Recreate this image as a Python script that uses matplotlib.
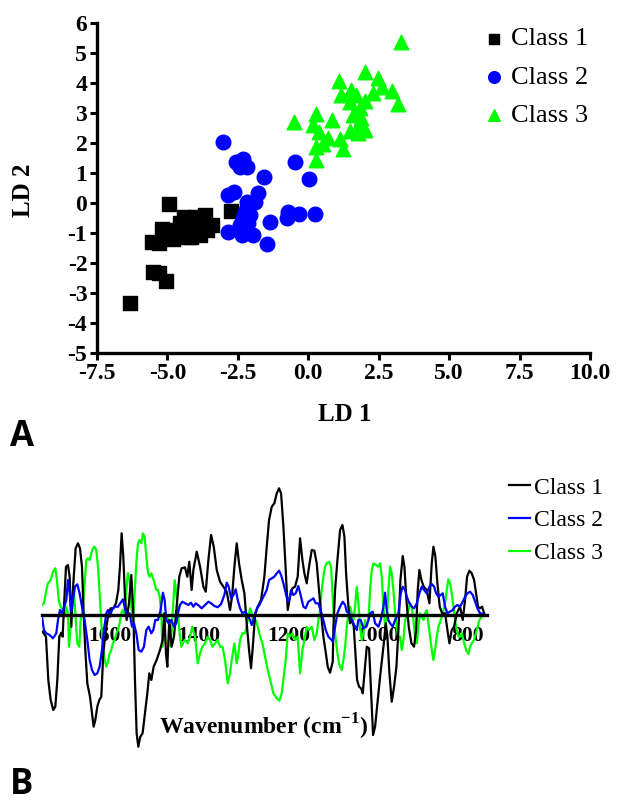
import matplotlib
matplotlib.use("Agg")
import matplotlib.pyplot as plt

plt.rcParams['axes.unicode_minus'] = False
plt.rcParams['mathtext.fontset'] = 'custom'
plt.rcParams['mathtext.rm'] = 'Liberation Serif'
plt.rcParams['mathtext.bf'] = 'Liberation Serif:bold'

# ---------------- Panel A data (LD scores) ----------------
class1_ld1 = [-4.95, -6.33, -5.50, -5.29, -5.05, -5.56, -5.29, -5.21, -4.79, -4.91, -4.41, -4.03,
              -3.67, -3.43, -4.26, -3.85, -4.03, -4.44, -2.76, -4.56, -4.20, -3.61, -4.67, -4.15]
class1_ld2 = [-0.04, -3.32, -2.29, -2.34, -2.59, -1.31, -1.32, -0.88, -1.21, -0.90, -0.46, -0.46,
              -0.40, -0.73, -1.12, -1.07, -0.79, -0.84, -0.26, -0.67, -0.62, -0.90, -1.01, -1.12]

class2_ld1 = [-3.02, -2.55, -2.31, -2.43, -2.16, -1.58, -0.48, 0.02, -2.84, -2.63, -1.80, -2.16,
              -1.90, -2.25, -2.07, -2.84, -2.37, -1.96, -1.48, -1.37, -0.72, -0.77, -0.34, 0.23,
              -2.43, -2.13, -2.19, -2.31]
class2_ld2 = [2.04, 1.36, 1.47, 1.21, 1.19, 0.88, 1.38, 0.79, 0.27, 0.38, 0.32, 0.04,
              0.02, -0.29, -0.40, -0.96, -1.07, -1.07, -1.38, -0.64, -0.29, -0.51, -0.38, -0.38,
              -0.73, -0.68, -0.12, -0.51]

class3_ld1 = [3.30, 2.00, 1.09, 2.47, 2.63, 2.98, 3.18, 2.30, 1.53, 1.17, 1.47, 2.00, 1.83, 1.59,
              1.85, 2.00, 1.77, 1.47, 0.85, 0.27, -0.51, 0.15, 0.38, 0.70, 1.12, 0.53, 0.29, 1.23,
              0.27, 1.71, 1.88]
class3_ld2 = [5.36, 4.36, 4.08, 4.16, 3.88, 3.73, 3.29, 3.68, 3.77, 3.60, 3.38, 3.40, 3.16, 2.93,
              2.71, 2.43, 2.32, 2.40, 2.77, 2.96, 2.69, 2.60, 2.38, 2.16, 2.12, 1.96, 1.88, 1.80,
              1.43, 3.60, 2.82]

classes = ["Class 1", "Class 2", "Class 3"]
x_ticks_a = [-7.5, -5.0, -2.5, 0.0, 2.5, 5.0, 7.5, 10.0]
y_ticks_a = [-5, -4, -3, -2, -1, 0, 1, 2, 3, 4, 5, 6]

# ---------------- Panel B data (LD1 loadings, arbitrary units) ----------------
wn1 = [1750.5, 1743.1, 1737.9, 1732.6, 1726.7, 1722.2, 1717.7, 1713.3, 1708.8, 1705.8, 1702.8, 1698.3,
       1693.9, 1690.1, 1686.4, 1681.9, 1676.7, 1671.5, 1667.0, 1662.5, 1658.8, 1655.1, 1650.6, 1644.6,
       1640.1, 1636.4, 1632.7, 1628.2, 1623.7, 1619.3, 1614.8, 1609.6, 1604.3, 1598.4, 1592.4, 1586.4,
       1581.2, 1577.5, 1573.8, 1570.0, 1566.3, 1562.6, 1557.3, 1552.1, 1547.6, 1543.9, 1540.2, 1536.4,
       1532.0, 1526.8, 1521.5, 1516.3, 1511.8, 1507.3, 1502.1, 1495.4, 1487.9, 1482.0, 1478.2, 1474.5,
       1471.5, 1467.1, 1461.8, 1456.6, 1450.6, 1444.7, 1439.5, 1432.0, 1426.8, 1422.3, 1417.1, 1413.2,
       1405.7, 1398.2, 1390.8, 1385.5, 1379.6, 1373.6, 1367.6, 1360.9, 1353.5, 1346.0, 1338.6, 1331.1,
       1326.6, 1321.4, 1316.2, 1311.0, 1305.0, 1299.0, 1293.8, 1288.6, 1284.1, 1279.6, 1275.1, 1269.2,
       1261.7, 1254.3, 1249.0, 1243.8, 1237.8, 1231.9, 1226.6, 1221.4, 1216.9, 1211.7, 1207.3, 1202.0,
       1196.8, 1191.6, 1185.6, 1179.7, 1174.4, 1169.2, 1164.7, 1159.5, 1154.3, 1148.3, 1142.4, 1137.1,
       1132.7, 1127.4, 1122.2, 1117.7, 1112.5, 1107.3, 1101.3, 1099.7, 1096.0, 1090.8, 1084.8, 1079.6,
       1075.1, 1071.4, 1066.2, 1062.4, 1058.0, 1054.2, 1050.5, 1046.8, 1042.3, 1037.8, 1034.1, 1029.6,
       1025.1, 1019.9, 1015.4, 1011.0, 1006.5, 1002.0, 995.3, 987.8, 982.6, 978.9, 974.4, 969.2,
       964.0, 958.7, 954.3, 949.8, 944.6, 940.8, 936.4, 931.2, 925.2, 919.2, 914.7, 911.0,
       907.3, 902.8, 897.6, 890.9, 884.9, 879.7, 875.9, 871.5, 867.0, 861.8, 856.5, 849.8,
       844.6, 840.1, 834.9, 829.7, 823.7, 816.3, 810.3, 805.1, 800.6, 795.4, 790.2, 784.9,
       780.4, 776.0, 771.5, 767.0, 762.5]
load1 = [-1.67, -2.17, -6.5, -8.5, -9.5, -9.17, -6.5, -2.17, -1.77, -2.17, 0.83, 4.83,
         5.0, 3.83, -1.17, 3.17, 6.67, 7.17, 6.67, 4.83, 0.17, -3.5, -6.83, -8.17,
         -9.83, -11.17, -10.5, -9.17, -8.5, -8.17, -3.83, -1.67, -0.17, 0.67, 0.67, 1.17,
         2.5, 4.83, 8.17, 5.83, 1.83, -0.5, 1.17, 4.0, 0.17, -6.5, -11.83, -13.17,
         -12.17, -11.83, -9.83, -7.83, -5.83, -6.5, -5.17, -4.5, -3.5, -2.5, 0.17, -3.83,
         -5.17, -0.5, -3.17, -2.17, 0.83, 3.83, 4.67, 4.77, 3.83, 5.33, 2.5, 4.5,
         6.33, 4.83, 2.83, 2.33, 5.5, 8.0, 6.83, 4.5, 3.33, 2.83, 2.33, 0.5,
         1.83, 4.83, 7.17, 5.17, 3.5, 2.17, -0.83, -3.5, -5.33, -2.83, 0.0, 0.83,
         1.5, 3.83, 6.83, 9.5, 10.83, 11.17, 12.17, 12.67, 12.17, 8.83, 5.17, 0.5,
         1.83, 2.67, 2.83, 3.83, 7.67, 5.5, 4.17, 3.17, 4.83, 6.5, 6.43, 5.17,
         2.83, 0.17, -2.17, -3.5, -5.17, -5.77, -4.67, -1.17, 2.5, 5.5, 8.5, 9.0,
         7.83, 4.17, 0.83, -0.83, -0.5, -1.17, -3.83, -6.5, -7.17, -7.33, -7.83, -5.5,
         -3.17, -3.33, -7.83, -12.0, -11.17, -9.17, -6.17, -3.17, -0.83, -2.17, -5.83, -8.67,
         -7.17, -5.17, -1.5, 3.5, 5.9, 4.83, 1.5, -1.17, -2.83, -3.17, -1.5, 2.5,
         4.5, 3.5, 2.83, 2.5, 1.17, 5.17, 6.83, 5.83, 3.17, 0.83, 0.17, 0.17,
         -1.5, -2.83, -1.5, -1.17, 0.17, 0.83, -0.5, 1.5, 3.83, 4.43, 4.17, 3.5,
         2.17, 0.83, 0.67, 0.83, 0.17]

wn2 = [1752.0, 1747.6, 1742.4, 1734.9, 1727.4, 1720.0, 1716.2, 1711.8, 1707.3, 1702.1, 1697.6, 1693.9,
       1690.1, 1686.4, 1682.7, 1678.2, 1673.0, 1667.8, 1662.5, 1656.6, 1650.6, 1645.4, 1640.1, 1634.2,
       1628.2, 1623.0, 1617.8, 1613.3, 1608.1, 1604.3, 1599.9, 1595.4, 1589.4, 1582.0, 1576.0, 1570.8,
       1565.5, 1561.1, 1555.8, 1550.6, 1546.2, 1540.9, 1535.7, 1529.7, 1523.8, 1518.5, 1513.3, 1507.4,
       1502.9, 1498.4, 1492.4, 1486.5, 1481.3, 1477.5, 1473.8, 1468.6, 1462.6, 1456.6, 1451.4, 1447.7,
       1443.2, 1438.0, 1431.3, 1424.3, 1418.4, 1413.2, 1407.9, 1402.0, 1394.5, 1387.0, 1379.6, 1373.6,
       1366.2, 1358.7, 1351.2, 1343.8, 1338.6, 1334.1, 1328.9, 1323.6, 1318.4, 1313.9, 1308.7, 1303.5,
       1297.5, 1291.6, 1286.3, 1282.6, 1278.9, 1275.1, 1270.7, 1265.4, 1260.2, 1254.3, 1249.0, 1243.8,
       1237.8, 1231.9, 1226.6, 1221.4, 1216.9, 1211.7, 1206.5, 1202.0, 1198.3, 1194.6, 1189.4, 1184.1,
       1178.2, 1172.2, 1167.0, 1161.8, 1155.8, 1149.8, 1144.6, 1139.4, 1133.4, 1127.4, 1122.2, 1117.0,
       1111.0, 1103.6, 1101.2, 1096.0, 1090.8, 1084.8, 1078.9, 1073.6, 1069.9, 1063.9, 1058.7, 1051.2,
       1047.5, 1043.8, 1038.6, 1032.6, 1026.6, 1021.4, 1017.7, 1011.7, 1006.5, 999.0, 993.8, 987.8,
       984.1, 980.4, 976.7, 972.9, 967.0, 961.7, 954.3, 949.0, 944.6, 939.3, 935.6, 929.7,
       924.4, 919.2, 913.2, 907.3, 902.1, 896.8, 890.9, 884.9, 879.7, 874.4, 869.9, 864.7,
       859.5, 855.1, 849.8, 844.6, 838.6, 832.7, 827.5, 822.2, 816.3, 810.3, 805.1, 799.8,
       793.9, 787.9, 782.7, 777.5, 771.5, 765.5, 760.3]
load2 = [-0.17, -1.5, -1.83, -2.0, -2.33, -1.83, -0.5, 0.5, 0.17, 0.83, 1.5, 3.5,
         2.17, 0.33, 1.5, 2.83, 3.07, 2.17, 0.83, -0.5, -2.5, -4.5, -5.5, -6.0,
         -5.83, -5.17, -3.5, -1.5, 0.17, 0.5, -0.17, 0.5, 0.83, 0.83, 1.23, 1.57,
         0.5, -0.17, 0.17, -1.17, -0.83, -1.83, -3.5, -3.67, -3.17, -1.5, -1.17, -1.83,
         -1.5, -0.5, -0.5, 0.5, 2.23, 1.5, -0.5, -0.83, -0.5, -1.17, -0.83, 0.17,
         1.0, 1.33, 1.17, 1.0, 1.23, 0.83, 1.17, 0.97, 0.67, 1.0, 1.33, 1.17,
         0.9, 0.77, 1.1, 2.0, 3.23, 2.83, 1.67, 2.0, 2.57, 1.5, 0.67, 0.17,
         0.33, 0.0, -0.5, -1.0, -0.5, 0.17, 0.67, 1.0, 1.5, 2.0, 2.5, 3.5,
         3.67, 3.83, 4.17, 4.43, 4.0, 3.17, 2.17, 1.33, 1.57, 2.5, 2.0, 2.17,
         2.9, 1.83, 0.83, 0.67, 1.33, 1.5, 1.67, 1.17, 1.17, 0.33, -0.5, -1.5,
         -2.17, -2.5, -2.67, -1.17, 0.17, 0.83, 1.33, 1.0, 0.33, 0.17, -0.5, -1.17,
         -1.5, -0.5, -0.5, -1.33, -1.17, -0.5, 0.17, 0.33, -0.83, -1.17, -0.5, 0.83,
         2.23, 0.5, -0.5, -0.83, -1.17, -0.5, 0.17, 2.17, 2.83, 2.5, 1.83, 1.17,
         0.83, 0.67, 1.17, 2.17, 2.83, 2.5, 2.17, 2.83, 3.1, 2.83, 2.17, 1.83,
         2.0, 2.17, 0.83, 0.17, 0.33, 0.5, 0.83, 1.0, 0.83, 1.33, 1.83, 2.17,
         2.33, 2.0, 1.33, 0.67, 0.17, 0.1, 0.0]

wn3 = [1752.0, 1747.6, 1742.4, 1738.6, 1732.7, 1727.4, 1722.2, 1718.5, 1714.7, 1710.3, 1705.0, 1701.3,
       1697.6, 1693.9, 1691.6, 1687.9, 1684.9, 1681.2, 1677.4, 1673.0, 1668.5, 1665.5, 1660.3, 1656.6,
       1652.8, 1649.1, 1645.4, 1641.6, 1637.9, 1634.2, 1630.5, 1626.7, 1623.0, 1619.3, 1615.5, 1611.8,
       1608.1, 1604.3, 1600.6, 1596.9, 1593.2, 1589.4, 1585.7, 1582.0, 1578.2, 1574.5, 1570.8, 1567.0,
       1563.3, 1559.6, 1555.8, 1552.1, 1548.4, 1544.7, 1540.9, 1537.2, 1533.5, 1529.7, 1526.0, 1522.3,
       1518.5, 1514.8, 1511.1, 1507.4, 1503.6, 1499.9, 1496.2, 1492.4, 1488.7, 1485.0, 1482.7, 1479.0,
       1476.0, 1471.6, 1468.6, 1464.1, 1460.4, 1455.1, 1451.4, 1447.7, 1443.9, 1440.2, 1432.8, 1425.8,
       1420.6, 1415.4, 1409.4, 1403.5, 1398.2, 1393.0, 1387.0, 1381.1, 1375.8, 1370.6, 1364.7, 1358.7,
       1353.5, 1348.2, 1342.3, 1336.3, 1331.1, 1327.4, 1321.4, 1316.2, 1312.4, 1308.7, 1303.5, 1297.5,
       1291.6, 1286.3, 1282.6, 1278.9, 1273.6, 1269.2, 1263.9, 1258.7, 1252.8, 1246.8, 1239.3, 1234.1,
       1226.6, 1220.7, 1215.5, 1211.0, 1206.5, 1202.0, 1196.8, 1191.6, 1185.6, 1179.7, 1174.4, 1169.2,
       1164.7, 1159.5, 1154.3, 1148.3, 1142.4, 1137.1, 1133.4, 1129.7, 1125.9, 1122.2, 1118.5, 1114.7,
       1109.5, 1105.1, 1103.5, 1099.7, 1096.0, 1090.8, 1086.3, 1081.1, 1077.4, 1073.6, 1069.9, 1066.2,
       1062.4, 1058.7, 1055.0, 1051.2, 1047.5, 1043.8, 1040.1, 1036.3, 1032.6, 1028.9, 1025.1, 1021.4,
       1017.7, 1013.9, 1010.2, 1004.3, 999.0, 995.3, 991.6, 987.8, 984.1, 980.4, 976.7, 972.9,
       969.2, 965.5, 961.7, 958.0, 954.3, 950.5, 946.8, 943.1, 939.3, 935.6, 931.9, 928.2,
       924.4, 920.7, 917.0, 913.2, 909.5, 905.8, 902.1, 898.3, 894.6, 890.9, 887.1, 883.4,
       879.7, 875.9, 872.2, 868.5, 864.7, 859.5, 855.1, 849.8, 846.1, 842.4, 838.6, 834.9,
       831.2, 827.5, 823.7, 820.0, 816.3, 812.5, 808.8, 802.8, 797.6, 793.9, 790.2, 784.9,
       778.9, 773.0, 767.8, 762.5]
load3 = [1.0, 1.17, 2.5, 3.17, 3.5, 4.33, 4.67, 3.5, 1.5, 0.83, 0.5, -0.17,
         0.83, 0.17, -3.17, -1.17, 1.83, 2.83, 0.17, -2.83, -3.17, -0.5, 0.83, 3.17,
         5.5, 5.67, 5.5, 6.17, 6.67, 6.83, 6.5, 4.83, 2.17, -0.83, -3.17, -4.5,
         -5.17, -4.67, -3.83, -3.5, -2.83, -2.5, -1.83, -1.5, -0.83, 0.17, 0.5, 0.17,
         2.5, 4.17, 3.5, 0.83, -0.5, 2.17, 5.17, 7.17, 7.5, 7.17, 8.17, 7.83,
         5.83, 4.17, 3.83, 4.17, 3.67, 3.17, 2.5, 2.5, 1.83, 0.17, -3.17, -2.5,
         -0.5, -0.17, -0.5, -3.17, -0.5, 3.5, 2.17, 0.17, -1.83, -3.17, -2.5, -2.83,
         -2.17, -1.17, -2.17, -4.83, -3.83, -3.17, -2.83, -2.17, -2.5, -3.17, -2.83, -2.5,
         -3.17, -3.17, -4.5, -6.83, -5.83, -4.5, -2.83, -4.83, -3.83, -2.5, -1.83, -1.83,
         -0.5, 0.67, 0.17, -0.83, -0.5, -1.17, -2.17, -2.83, -4.17, -5.5, -6.83, -7.83,
         -8.33, -8.57, -7.83, -6.17, -4.5, -1.83, -2.17, -1.83, -2.5, -2.17, -5.83, -3.5,
         -2.5, -1.17, -1.5, -1.17, -2.5, -1.83, -0.5, 0.5, 2.5, 3.83, 4.83, 5.17,
         5.33, 4.83, 3.5, 0.5, -1.83, -3.83, -5.0, -5.5, -4.5, -3.17, -1.17, 0.17,
         0.83, 0.17, -0.5, 0.83, 2.83, 1.17, -1.17, -2.5, -1.83, -0.5, -1.17, -0.5,
         2.5, 4.5, 5.17, 5.0, 4.83, 5.17, 3.83, 0.83, -1.17, -0.5, 2.5, 4.83,
         4.17, 2.5, 0.17, -1.17, -2.5, -2.17, -3.5, -2.5, -0.5, -0.17, 0.5, 1.17,
         0.83, -0.5, -2.17, -2.83, -1.17, 0.17, -0.17, -0.5, 0.17, 0.5, -0.83, -2.17,
         -3.5, -4.5, -3.5, -2.17, -1.17, -0.5, 0.17, 1.17, 2.5, 3.57, 3.17, 2.17,
         0.83, -0.5, -1.5, -2.17, -2.17, -1.83, -2.5, -3.5, -3.9, -3.17, -2.83, -2.5,
         -1.5, -0.5, -0.17, 0.0]

x_ticks_b = [1600, 1400, 1200, 1000, 800]

# ---------------- Figure ----------------
fig = plt.figure(figsize=(6.18, 8.05), dpi=100)
serif = 'Liberation Serif'

# Panel A
axA = fig.add_axes([97/618, 1-353/805, 493/618, 330/805])
axA.scatter(class1_ld1, class1_ld2, marker='s', s=95, color='#000000', label=classes[0], zorder=3)
axA.scatter(class2_ld1, class2_ld2, marker='o', s=110, color='#0000FF', label=classes[1], zorder=3)
axA.scatter(class3_ld1, class3_ld2, marker='^', s=110, color='#00FF00', label=classes[2], zorder=3)
axA.set_xlim(-7.5, 10.0)
axA.set_ylim(-5, 6)
axA.set_xticks(x_ticks_a)
axA.set_xticklabels([f"{v:.1f}" for v in x_ticks_a])
axA.set_yticks(y_ticks_a)
axA.set_yticklabels([str(v) for v in y_ticks_a])
for side in ['top', 'right']:
    axA.spines[side].set_visible(False)
for side in ['left', 'bottom']:
    axA.spines[side].set_linewidth(2.4)
axA.tick_params(axis='both', direction='out', length=5, width=2.2, pad=2)
for lab in axA.get_xticklabels() + axA.get_yticklabels():
    lab.set_fontfamily(serif)
    lab.set_fontweight('bold')
    lab.set_fontsize(17)
axA.set_xlabel('LD 1', fontfamily=serif, fontweight='bold', fontsize=18)
axA.set_ylabel('LD 2', fontfamily=serif, fontweight='bold', fontsize=18)
axA.xaxis.set_label_coords(0.503, -0.15)
axA.yaxis.set_label_coords(-0.125, 0.494)
legA = axA.legend(loc='upper left', bbox_to_anchor=(485/618, 1-27/805),
                  bbox_transform=fig.transFigure, frameon=False,
                  prop={'family': serif, 'size': 19}, handlelength=0.7,
                  handletextpad=0.3, labelspacing=0.56, borderpad=0, borderaxespad=0,
                  markerscale=0.8)

# Panel B
axB = fig.add_axes([42/618, 1-760/805, 445/618, 290/805])
axB.plot(wn1, load1, color='#000000', lw=1.6, label=classes[0], zorder=3)
axB.plot(wn2, load2, color='#0000FF', lw=1.6, label=classes[1], zorder=3)
axB.plot(wn3, load3, color='#00FF00', lw=1.6, label=classes[2], zorder=2)
axB.set_xlim(1752, 756)
axB.set_ylim(-14.5, 14.5)
for side in ['top', 'right', 'left']:
    axB.spines[side].set_visible(False)
axB.spines['bottom'].set_position(('data', 0))
axB.spines['bottom'].set_linewidth(2.4)
axB.spines['bottom'].set_zorder(4)
axB.set_yticks([])
axB.set_xticks(x_ticks_b)
axB.set_xticklabels([str(v) for v in x_ticks_b])
axB.tick_params(axis='x', length=0, pad=8)
for lab in axB.get_xticklabels():
    lab.set_fontfamily(serif)
    lab.set_fontweight('bold')
    lab.set_fontsize(15.5)
fig.text(264/618, 1-727/805, 'Wavenumber (cm$^{\\mathbf{-1}}$)', ha='center', va='center',
         fontfamily=serif, fontweight='bold', fontsize=17)
legB = axB.legend(loc='upper left', bbox_to_anchor=(509/618, 1-477/805),
                  bbox_transform=fig.transFigure, frameon=False,
                  prop={'family': serif, 'size': 17}, handlelength=0.9,
                  handletextpad=0.15, labelspacing=0.47, borderpad=0, borderaxespad=0)

# Panel letters
fig.text(10/618, 1-437/805, 'A', ha='left', va='center', fontfamily='Open Sans',
         fontweight='bold', fontsize=25)
fig.text(10/618, 1-785/805, 'B', ha='left', va='center', fontfamily='Open Sans',
         fontweight='bold', fontsize=25)

fig.savefig('out.png', dpi=100)
